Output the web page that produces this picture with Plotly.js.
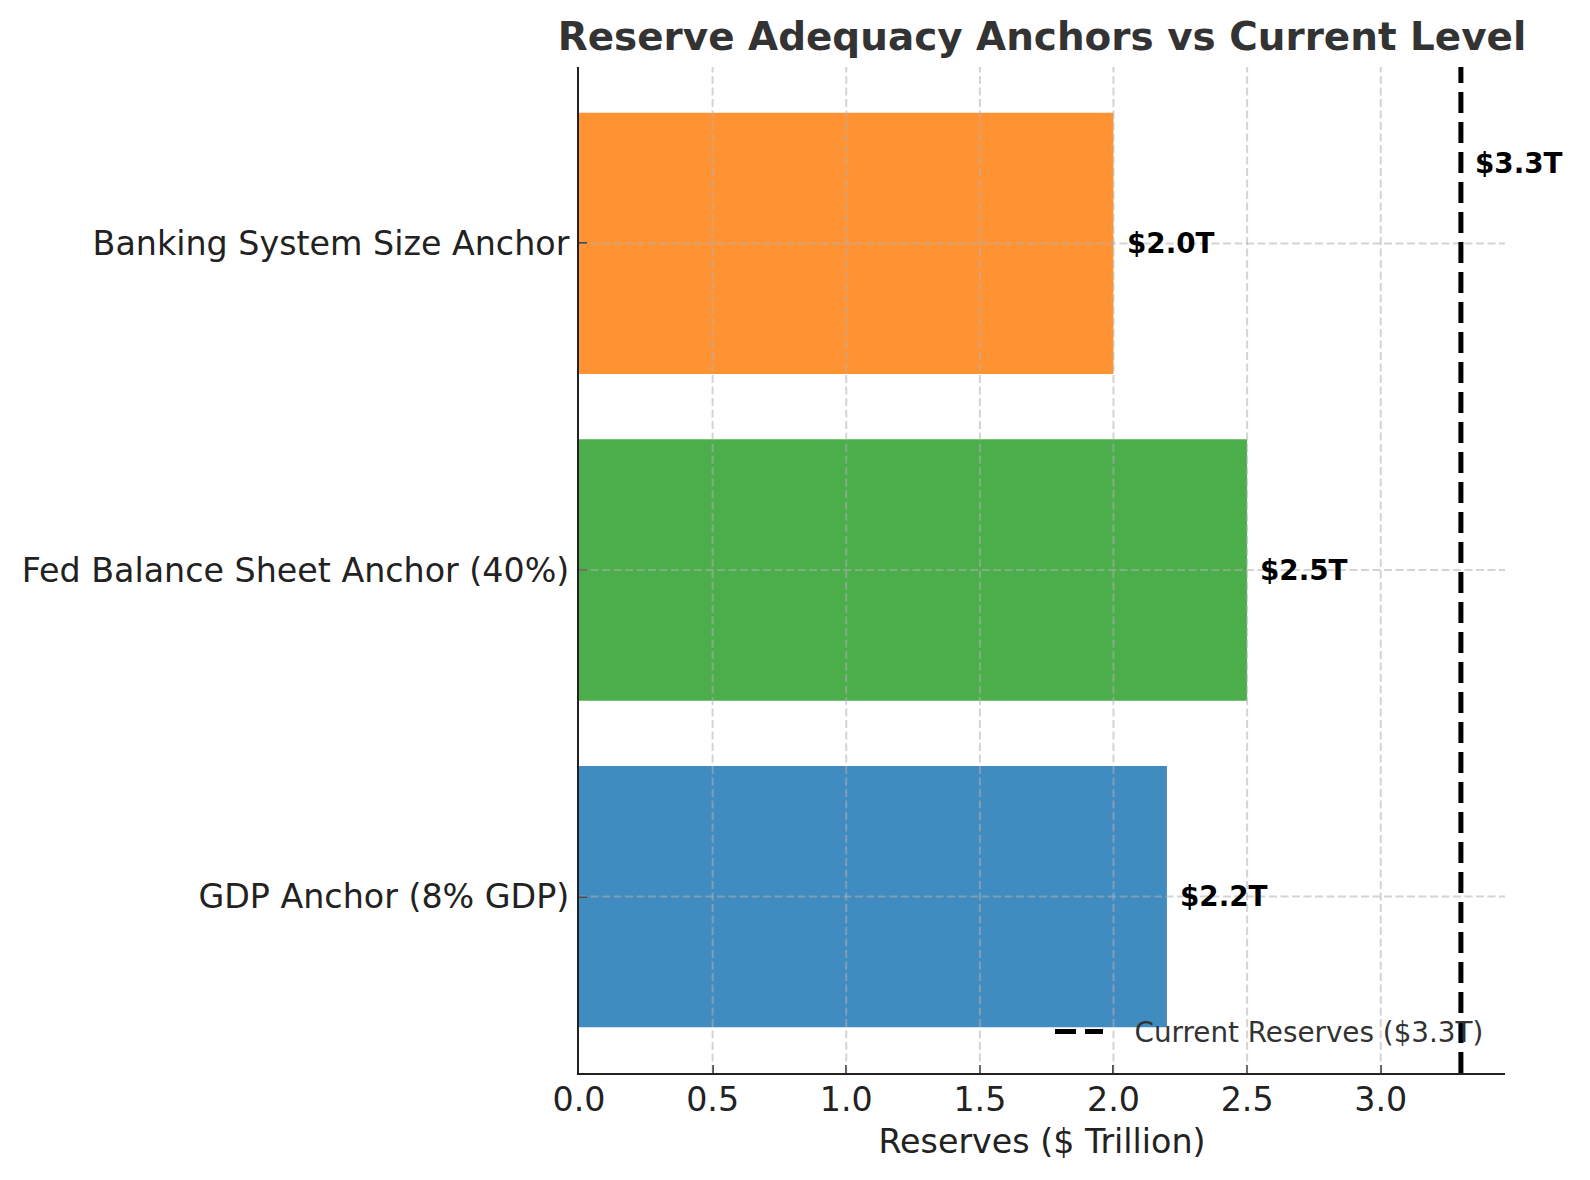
<!DOCTYPE html>
<html>
<head>
<meta charset="utf-8">
<script src="https://cdn.plot.ly/plotly-3.0.1.min.js"></script>
<style>html,body{margin:0;padding:0;background:#fff;}#chart{width:1590px;height:1180px;}</style>
</head>
<body>
<div id="chart"></div>
<script>
// ---- data ----
const categories = ["GDP Anchor (8% GDP)", "Fed Balance Sheet Anchor (40%)", "Banking System Size Anchor"];
const values = [2.2, 2.5, 2.0];
const barColors = ["rgba(31,119,180,0.85)", "rgba(44,160,44,0.85)", "rgba(255,127,14,0.85)"];
const currentReserves = 3.3;
const currentLabel = "Current Reserves ($3.3T)";
const xTickVals = [0.0, 0.5, 1.0, 1.5, 2.0, 2.5, 3.0];
const xTickText = ["0.0", "0.5", "1.0", "1.5", "2.0", "2.5", "3.0"];

// ---- layout helpers ----
const FONT = "DejaVu Sans, sans-serif";
const barWidth = 0.8;
const yPad = 0.05 * (categories.length - 1 + barWidth);
const yRange = [-barWidth / 2 - yPad, categories.length - 1 + barWidth / 2 + yPad];
const xRange = [0, currentReserves * 1.05];
const labelOffset = 0.05;

const gridStyle = {color: "rgba(176,176,176,0.55)", width: 2, dash: "8px,3.5px"};
const shapes = [];
xTickVals.forEach(v => {
  if (v > 0) shapes.push({type: "line", layer: "above", xref: "x", yref: "paper", x0: v, x1: v, y0: 0, y1: 1, line: gridStyle});
});
categories.forEach((c, i) => {
  shapes.push({type: "line", layer: "above", xref: "paper", yref: "y", x0: 0, x1: 1, y0: i, y1: i, line: gridStyle});
});
shapes.push({
  type: "line", layer: "above", xref: "x", yref: "paper",
  x0: currentReserves, x1: currentReserves, y0: 0, y1: 1,
  line: {color: "black", width: 5, dash: "21px,9px"},
  showlegend: true, name: "\u00a0\u00a0\u00a0" + currentLabel
});

const annotations = values.map((v, i) => ({
  x: v + labelOffset, y: i, xref: "x", yref: "y",
  text: "$" + v.toFixed(1) + "T", showarrow: false,
  xanchor: "left", yanchor: "middle", xshift: -2,
  font: {family: FONT, size: 27.8, color: "black", weight: "bold"}
}));
annotations.push({
  x: currentReserves + labelOffset, y: categories.length - 1 + 0.25, xref: "x", yref: "y",
  text: "$" + currentReserves.toFixed(1) + "T", showarrow: false,
  xanchor: "left", yanchor: "middle", xshift: -1, yshift: -2,
  font: {family: FONT, size: 27.8, color: "black", weight: "bold"}
});

const traces = [{
  type: "bar", orientation: "h",
  y: categories.map((c, i) => i), x: values,
  width: barWidth,
  marker: {color: barColors, line: {width: 0}},
  showlegend: false, hoverinfo: "skip"
}];

const layout = {
  width: 1590, height: 1180,
  paper_bgcolor: "white", plot_bgcolor: "white",
  margin: {l: 579, r: 85, t: 67, b: 107, pad: 0},
  font: {family: FONT, color: "#222"},
  title: {
    text: "<b>Reserve Adequacy Anchors vs Current Level</b>",
    font: {family: FONT, size: 38.9, color: "#333"},
    x: 0.5, xref: "paper", xanchor: "center",
    y: 1 - 36.5 / 1180, yref: "container", yanchor: "middle"
  },
  xaxis: {
    range: xRange, tickvals: xTickVals, ticktext: xTickText,
    showgrid: false, zeroline: false,
    showline: true, linecolor: "#222", linewidth: 2,
    ticks: "inside", ticklen: 8, tickwidth: 2, tickcolor: "#222",
    tickfont: {family: FONT, size: 33.3, color: "#222"},
    ticklabelstandoff: -4,
    title: {text: "Reserves ($ Trillion)", font: {family: FONT, size: 33.3, color: "#222"}, standoff: 12},
    layer: "above traces", fixedrange: true
  },
  yaxis: {
    range: yRange, tickvals: categories.map((c, i) => i), ticktext: categories,
    showgrid: false, zeroline: false,
    showline: true, linecolor: "#222", linewidth: 2,
    ticks: "inside", ticklen: 8, tickwidth: 2, tickcolor: "#222",
    tickfont: {family: FONT, size: 33.3, color: "#222"},
    ticklabelstandoff: 1,
    layer: "above traces", fixedrange: true
  },
  shapes: shapes,
  annotations: annotations,
  showlegend: true,
  legend: {
    x: (1050 - 579) / 926, xanchor: "left", xref: "paper",
    y: (1073 - 1032) / 1006, yanchor: "middle", yref: "paper",
    bgcolor: "rgba(0,0,0,0)", borderwidth: 0,
    font: {family: FONT, size: 27.8, color: "#333"},
    itemwidth: 48
  }
};

Plotly.newPlot("chart", traces, layout, {displayModeBar: false, staticPlot: true});
</script>
</body>
</html>
